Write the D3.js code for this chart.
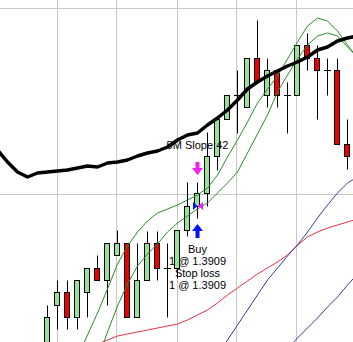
<!DOCTYPE html>
<html>
<head>
<meta charset="utf-8">
<script src="https://cdn.jsdelivr.net/npm/d3@7/dist/d3.min.js"></script>
<style>
html,body{margin:0;padding:0;background:#fff;}
svg{display:block;}
text{font-family:"Liberation Sans",Arial,Helvetica,sans-serif;}
</style>
</head>
<body>
<svg id="chart" width="353" height="342"></svg>
<script>
// ---- data ----
const firstBar = 4; // bar index of first candle
const opens  = [1.38942,1.38989,1.39002,1.38977,1.39002,1.39026,1.39014,1.39039,1.39051,1.38977,1.39014,1.39051,1.39026,1.39026,1.39064,1.39088,1.39101,1.39138,1.39175,1.39199,1.39187,1.39236,1.39199,1.39224,1.39199,1.39199,1.39249,1.39236,1.39224,1.39224,1.39150];
const highs  = [1.38989,1.39014,1.39014,1.39014,1.39026,1.39039,1.39051,1.39064,1.39051,1.39051,1.39063,1.39063,1.39051,1.39064,1.39112,1.39112,1.39162,1.39175,1.39199,1.39224,1.39236,1.39274,1.39236,1.39224,1.39212,1.39249,1.39261,1.39249,1.39236,1.39236,1.39175];
const lows   = [1.38934,1.38965,1.38965,1.38965,1.38977,1.39014,1.38989,1.39039,1.38977,1.38977,1.39014,1.39014,1.38977,1.39016,1.39058,1.39076,1.39088,1.39124,1.39175,1.39161,1.39187,1.39212,1.39187,1.39187,1.39161,1.39199,1.39224,1.39175,1.39199,1.39150,1.39125];
const closes = [1.38977,1.39002,1.38977,1.39014,1.39026,1.39014,1.39051,1.39051,1.38977,1.39014,1.39051,1.39026,1.39026,1.39064,1.39088,1.39101,1.39138,1.39175,1.39199,1.39199,1.39236,1.39212,1.39224,1.39199,1.39199,1.39249,1.39236,1.39224,1.39224,1.39150,1.39138];

// moving averages: start bar + values
const maSlowStart = -1;
const maSlow = [1.39144,1.39132,1.39122,1.39117,1.39121,1.39122,1.39123,1.39124,1.39126,1.39128,1.39127,1.39131,1.39132,1.39134,1.39138,1.39141,1.39143,1.39147,1.39154,1.39159,1.39161,1.39169,1.39176,1.39184,1.39194,1.39205,1.39212,1.39218,1.39223,1.39228,1.39232,1.39237,1.39244,1.39247,1.39253,1.39256,1.39258];
const greenUpperStart = 7;
const greenUpper = [1.38937,1.38959,1.38981,1.39005,1.39030,1.39048,1.39062,1.39073,1.39081,1.39085,1.39089,1.39094,1.39099,1.39106,1.39119,1.39137,1.39154,1.39172,1.39191,1.39205,1.39218,1.39235,1.39252,1.39268,1.39276,1.39273,1.39263,1.39249,1.39236];
const greenLowerStart = 9;
const greenLower = [1.38934,1.38962,1.38988,1.39010,1.39028,1.39040,1.39050,1.39062,1.39071,1.39078,1.39085,1.39091,1.39101,1.39111,1.39122,1.39141,1.39160,1.39179,1.39202,1.39219,1.39235,1.39249,1.39258,1.39261,1.39258,1.39247,1.39237];
const redMAStart = 9;
const redMA = [1.38950,1.38954,1.38958,1.38960,1.38962,1.38964,1.38966,1.38968,1.38970,1.38974,1.38979,1.38984,1.38991,1.38999,1.39006,1.39013,1.39020,1.39026,1.39032,1.39039,1.39049,1.39057,1.39062,1.39066,1.39069,1.39072,1.39075];
const blueUpperStart = 21;
const blueUpper = [1.38938,1.38954,1.38969,1.38984,1.38999,1.39014,1.39026,1.39038,1.39049,1.39062,1.39076,1.39089,1.39101,1.39111,1.39117];
const blueLowerStart = 28;
const blueLower = [1.38945,1.38956,1.38966,1.38976,1.38987,1.38997,1.39009,1.39020];

const gridBars = [5, 11, 17, 23, 29];
const gridPrices = [1.39286, 1.39100];

// trade signal
const signalBar = 19;
const entryPrice = 1.39088;
const slopeLabel = "5M Slope:42";
const tradeLines = ["Buy", "1 @ 1.3909", "Stop loss", "1 @ 1.3909"];

// ---- chart ----
const W = 353, H = 342;
const svg = d3.select("#chart");
const x = d3.scaleLinear().domain([-0.7, 34.6]).range([0, W]);
const y = d3.scaleLinear().domain([1.38952, 1.39294]).range([H, 0]);
const py = v => Math.round(y(v)) + 0.5;

// grid
const g = svg.append("g");
g.selectAll("line.v").data(gridBars).join("line")
  .attr("x1", d => Math.floor(x(d)) + 0.5).attr("x2", d => Math.floor(x(d)) + 0.5)
  .attr("y1", 0).attr("y2", H)
  .attr("stroke", "#c8c8c8").attr("stroke-width", 1);
g.selectAll("line.h").data(gridPrices).join("line")
  .attr("x1", 0).attr("x2", W)
  .attr("y1", d => py(d)).attr("y2", d => py(d))
  .attr("stroke", "#c8c8c8").attr("stroke-width", 1);

// candles
const candles = opens.map((o, k) => ({bar: firstBar + k, o, h: highs[k], l: lows[k], c: closes[k]}));
const cg = svg.append("g");
cg.selectAll("line.wick").data(candles).join("line")
  .attr("x1", d => x(d.bar) + 0.5).attr("x2", d => x(d.bar) + 0.5)
  .attr("y1", d => py(d.h)).attr("y2", d => py(d.l))
  .attr("stroke", "#000").attr("stroke-width", 1);
cg.selectAll("rect").data(candles.filter(d => d.o !== d.c)).join("rect")
  .attr("x", d => x(d.bar) - 2.5)
  .attr("width", 5)
  .attr("y", d => py(Math.max(d.o, d.c)))
  .attr("height", d => py(Math.min(d.o, d.c)) - py(Math.max(d.o, d.c)))
  .attr("fill", d => d.c > d.o ? "#98e198" : "#ee0000")
  .attr("stroke", "#000").attr("stroke-width", 1);
cg.selectAll("line.doji").data(candles.filter(d => d.o === d.c)).join("line")
  .attr("x1", d => x(d.bar) - 3).attr("x2", d => x(d.bar) + 4)
  .attr("y1", d => py(d.o)).attr("y2", d => py(d.o))
  .attr("stroke", "#000").attr("stroke-width", 1);

// lines
const mk = (start, vals) => vals.map((v, k) => [start + k, v]);
const line = d3.line().x(d => x(d[0]) + 0.5).y(d => y(d[1]));
const series = [
  {d: mk(redMAStart, redMA), c: "#e2333f", w: 1},
  {d: mk(blueUpperStart, blueUpper), c: "#3b3b9c", w: 1},
  {d: mk(blueLowerStart, blueLower), c: "#3b3b9c", w: 1},
  {d: mk(greenUpperStart, greenUpper), c: "#2e8a2e", w: 1},
  {d: mk(greenLowerStart, greenLower), c: "#2e8a2e", w: 1},
  {d: mk(maSlowStart, maSlow), c: "#000", w: 3.5}
];
svg.append("g").selectAll("path").data(series).join("path")
  .attr("d", s => line(s.d)).attr("fill", "none")
  .attr("stroke", s => s.c).attr("stroke-width", s => s.w)
  .attr("stroke-linejoin", "round");

// signal annotations
const sx = x(signalBar) + 0.5;
const sig = svg.append("g");
const sBar = candles.find(d => d.bar === signalBar);
const sTop = y(sBar.h), sBot = y(sBar.l), ey = y(entryPrice);
// magenta down arrow above
sig.append("path")
  .attr("d", `M${sx-2},${sTop-20} H${sx+2} V${sTop-14} H${sx+5.5} L${sx},${sTop-7} L${sx-5.5},${sTop-14} H${sx-2} Z`)
  .attr("fill", "#f020f0");
// blue up arrow below
sig.append("path")
  .attr("d", `M${sx},${sBot+6} L${sx+5.5},${sBot+13} H${sx+2} V${sBot+20} H${sx-2} V${sBot+13} H${sx-5.5} Z`)
  .attr("fill", "#0010ff");
// entry triangles
sig.append("path").attr("d", `M${sx-4.5},${ey-4} L${sx},${ey} L${sx-4.5},${ey+4} Z`).attr("fill", "#0010ff");
sig.append("path").attr("d", `M${sx+5.5},${ey-4} L${sx+0.5},${ey} L${sx+5.5},${ey+4} Z`).attr("fill", "#f020f0");

sig.append("text").attr("x", sx).attr("y", sTop - 33).attr("text-anchor", "middle")
  .attr("font-size", "11px").attr("fill", "#000").text(slopeLabel);
sig.selectAll("text.t").data(tradeLines).join("text")
  .attr("x", sx).attr("y", (d, k) => sBot + 35 + k * 12)
  .attr("text-anchor", "middle").attr("font-size", "11px").attr("fill", "#000")
  .text(d => d);
</script>
</body>
</html>
